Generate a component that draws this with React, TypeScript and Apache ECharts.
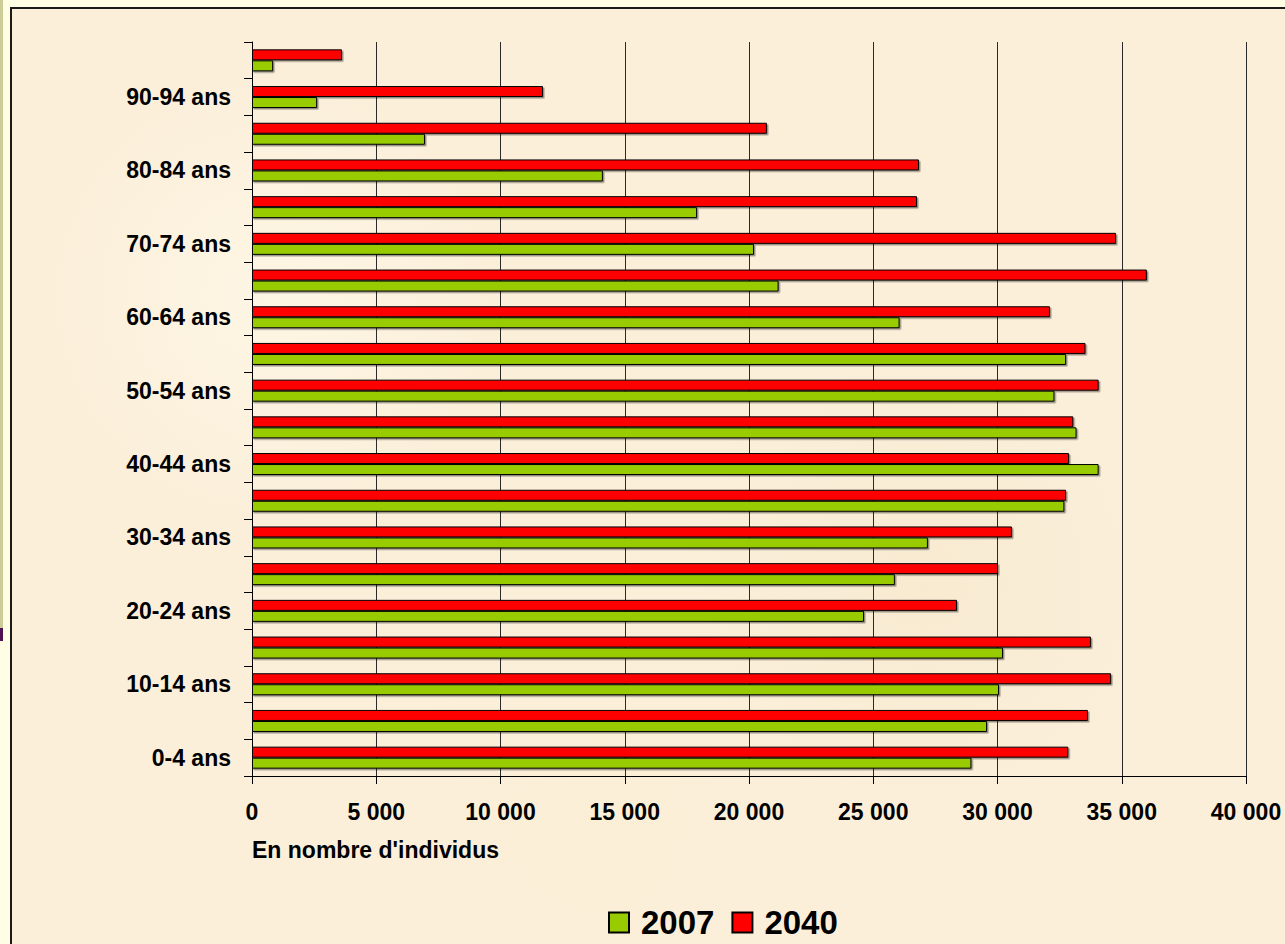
import React, { useEffect, useRef } from "react";
import * as echarts from "echarts";

const categories = [
  "0-4 ans", "5-9 ans", "10-14 ans", "15-19 ans", "20-24 ans",
  "25-29 ans", "30-34 ans", "35-39 ans", "40-44 ans", "45-49 ans",
  "50-54 ans", "55-59 ans", "60-64 ans", "65-69 ans", "70-74 ans",
  "75-79 ans", "80-84 ans", "85-89 ans", "90-94 ans", "95 ans et plus",
];

const values2007 = [
  28950, 29580, 30060, 30220, 24630,
  25870, 27200, 32690, 34070, 33180,
  32290, 32760, 26060, 21190, 20200,
  17910, 14120, 6960, 2620, 850,
];

const values2040 = [
  32850, 33640, 34570, 33760, 28370,
  30020, 30580, 32760, 32880, 33050,
  34070, 33540, 32110, 36010, 34770,
  26760, 26840, 20720, 11710, 3620,
];

const seriesNames = ["2007", "2040"];
const xTicks = { min: 0, max: 40000, interval: 5000 };
const axisTitle = "En nombre d'individus";

const FONT = "'Liberation Sans', Arial, Helvetica, sans-serif";

function fmt(v: number): string {
  return String(v).replace(/\B(?=(\d{3})+(?!\d))/g, " ");
}

export default function App() {
  const ref = useRef<HTMLDivElement>(null);

  useEffect(() => {
    if (!ref.current) return;
    const chart = echarts.init(ref.current, null, { renderer: "svg" });
    const barShadow = {
      shadowColor: "rgba(0,0,0,0.4)",
      shadowBlur: 1,
      shadowOffsetX: 1.5,
      shadowOffsetY: 1.5,
    };
    chart.setOption({
      animation: false,
      grid: { left: 252, right: 39, top: 42, bottom: 168, containLabel: false },
      legend: {
        data: ["2007", "2040"],
        left: 608,
        top: 906,
        padding: 0,
        itemWidth: 20,
        itemHeight: 20,
        itemGap: 17,
        icon: "rect",
        textStyle: {
          fontFamily: FONT,
          fontWeight: "bold",
          fontSize: 33,
          color: "#000",
          padding: [0, 0, 0, 7],
        },
      },
      xAxis: {
        type: "value",
        min: xTicks.min,
        max: xTicks.max,
        interval: xTicks.interval,
        axisLine: { show: true, lineStyle: { color: "#000", width: 1 } },
        axisTick: { show: true, length: 8, lineStyle: { color: "#000" } },
        splitLine: { show: true, lineStyle: { color: "#2a2a2a", width: 1 } },
        axisLabel: {
          formatter: (v: number) => fmt(v),
          fontFamily: FONT,
          fontWeight: "bold",
          fontSize: 23,
          color: "#000",
          margin: 24,
        },
      },
      yAxis: {
        type: "category",
        data: categories,
        axisLine: { show: true, lineStyle: { color: "#000", width: 1 } },
        axisTick: { show: true, length: 8, interval: 0, lineStyle: { color: "#000" } },
        axisLabel: {
          interval: 1,
          fontFamily: FONT,
          fontWeight: "bold",
          fontSize: 23,
          color: "#000",
          margin: 21,
        },
      },
      graphic: [
        {
          type: "text",
          left: 252,
          top: 838,
          style: {
            text: axisTitle,
            fontFamily: FONT,
            fontWeight: "bold",
            fontSize: 23,
            fill: "#000",
          },
        },
      ],
      series: [
        {
          name: seriesNames[1],
          type: "bar",
          data: values2040,
          barWidth: 11,
          barGap: "0%",
          itemStyle: { color: "#FF0000", borderColor: "#000", borderWidth: 1, ...barShadow },
        },
        {
          name: seriesNames[0],
          type: "bar",
          data: values2007,
          barWidth: 11,
          barGap: "0%",
          itemStyle: { color: "#99CC00", borderColor: "#000", borderWidth: 1, ...barShadow },
        },
      ],
    });
    return () => chart.dispose();
  }, []);

  return (
    <div
      style={{
        position: "fixed",
        left: 0,
        top: 0,
        width: 1285,
        height: 944,
        background: "#FFFDE4",
        overflow: "hidden",
      }}
    >
      <div style={{ position: "absolute", left: 0, top: 0, width: 3, height: 628, background: "#CCCC99" }} />
      <div style={{ position: "absolute", left: 0, top: 628, width: 3, height: 13, background: "#4E1050" }} />
      <div
        style={{
          position: "absolute",
          left: 10,
          top: 7,
          width: 1300,
          height: 960,
          border: "2px solid #1a1a1a",
          background:
            "radial-gradient(circle at 20% 30%, rgba(255,250,235,0.6) 0, rgba(255,250,235,0) 18%)," +
            "radial-gradient(circle at 70% 60%, rgba(245,230,200,0.5) 0, rgba(245,230,200,0) 22%)," +
            "radial-gradient(circle at 45% 85%, rgba(250,238,212,0.6) 0, rgba(250,238,212,0) 20%)," +
            "#FBEFDA",
        }}
      />
      <div ref={ref} style={{ position: "absolute", left: 0, top: 0, width: 1285, height: 944 }} />
    </div>
  );
}
